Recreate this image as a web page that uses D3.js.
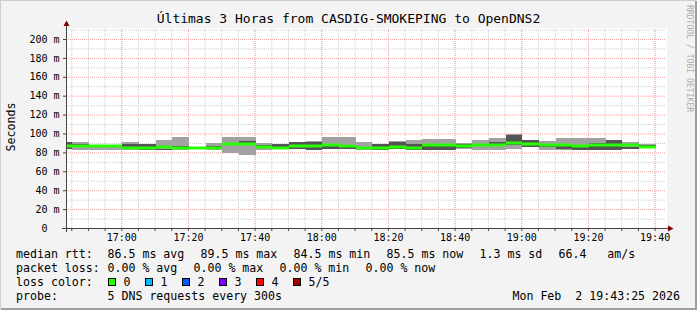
<!DOCTYPE html>
<html>
<head>
<meta charset="utf-8">
<script src="https://cdn.jsdelivr.net/npm/d3@7"></script>
<style>
body { margin: 0; background: #f3f3f3; }
text { font-family: "DejaVu Sans Mono", monospace; }
</style>
</head>
<body>
<svg id="chart" width="697" height="310"></svg>
<script>
// 5 minute steps (end time of each step), the first one is partial
var stepEnds = ["16:45","16:50","16:55","17:00","17:05","17:10","17:15","17:20","17:25","17:30",
                "17:35","17:40","17:45","17:50","17:55","18:00","18:05","18:10","18:15","18:20",
                "18:25","18:30","18:35","18:40","18:45","18:50","18:55","19:00","19:05","19:10",
                "19:15","19:20","19:25","19:30","19:35","19:40"];

// median rtt in ms
var median = [87, 87, 87, 87, 85, 84.5, 85.5, 84.5, 85, 85, 88.5, 89, 85.5, 84.5, 87, 87, 87.5, 87,
              84.8, 84.5, 86, 84.5, 87.5, 87.5, 87, 87.5, 87.5, 89.5, 88.5, 87.5, 87.5, 87, 87.5, 87.5, 87.5, 85.5];
// smoke: fastest / slowest ping (light) and 2nd / 4th ping (dark)
var pingMin = [84, 82.5, 82.5, 82.5, 82.5, 82.5, 82.5, 82.5, 85, 82.5, 79.7, 77.6, 83, 84.5, 84, 82.5, 83.5, 84,
               82.5, 82.5, 84, 82.5, 82.5, 82.5, 84, 82.5, 82.5, 84, 85.5, 82.5, 82.5, 82.5, 82.5, 82.5, 84, 85];
var pingMax = [91, 91, 87, 87, 91, 89, 93, 96.6, 85, 90.3, 96.6, 96.6, 89.5, 89, 91, 92, 96.5, 96.5,
               90.6, 89, 92, 93, 94, 94, 89.6, 93, 95, 99.5, 93, 92, 95, 95, 95, 93, 91, 89];
var ping2 = [84, 87.5, 87, 87, 85.5, 82.5, 83, 85.5, 85, 85.5, 88, 89.5, 87, 85, 84, 82.5, 83.5, 84,
             84.8, 82.5, 84, 83, 82.5, 82.5, 85, 87, 87.5, 88, 86, 86, 83.5, 82.5, 82.5, 82.5, 84, 86.5];
var ping4 = [91, 88.5, 87, 87, 89, 89, 84, 86.5, 85, 86.5, 89.8, 92, 87.8, 89, 91, 90.5, 89, 88,
             85.5, 89, 91, 89, 89, 88, 89, 88, 90.5, 98, 93, 88, 86.5, 87, 90.3, 93, 86, 87.5];

var yMajor = [0, 20, 40, 60, 80, 100, 120, 140, 160, 180, 200];
var yMinor = [10, 30, 50, 70, 90, 110, 130, 150, 170, 190, 210];

var title = "Últimas 3 Horas from CASDIG-SMOKEPING to OpenDNS2";
var rttLegend = ["86.5 ms avg", "89.5 ms max", "84.5 ms min", "85.5 ms now", "1.3 ms sd", "66.4   am/s"];
var lossLegend = ["0.00 % avg", "0.00 % max", "0.00 % min", "0.00 % now"];
var lossLabels = ["0", "1", "2", "3", "4", "5/5"];
var lossColors = ["#26ff00", "#00b8ff", "#0059ff", "#7e00ff", "#ff0000", "#a10000"];
var probeText = "5 DNS requests every 300s";
var stamp = "Mon Feb  2 19:43:25 2026";

var svg = d3.select("#chart");
var nb = function (s) { return s.replace(/ /g, "\u00a0"); };

var parse = d3.timeParse("%Y-%m-%d %H:%M:%S");
var tStart = parse("2026-02-02 16:43:25"), tEnd = parse("2026-02-02 19:43:25");
var ends = stepEnds.map(function (s) { return parse("2026-02-02 " + s + ":00"); });

var L = 66, R = 666, T = 28, B = 228;
var x = d3.scaleTime().domain([tStart, tEnd]).range([L, R]);
var y = d3.scaleLinear().domain([0, 211.6]).range([B, T]);

// frame
svg.append("rect").attr("width", 697).attr("height", 310).attr("fill", "#f3f3f3");
svg.append("path").attr("d", "M0,309V0H696").attr("fill", "none").attr("stroke", "#cfcfcf").attr("stroke-width", 2);
svg.append("path").attr("d", "M1,309H696V1").attr("fill", "none").attr("stroke", "#9e9e9e").attr("stroke-width", 2);
svg.append("rect").attr("x", L).attr("y", T).attr("width", R - L + 1).attr("height", B - T).attr("fill", "#fff");

// grid
var minorTimes = d3.timeMinute.every(5).range(tStart, tEnd);
var majorTimes = d3.timeMinute.every(20).range(tStart, tEnd);

function grid(g, color) {
    g.select(".domain").remove();
    g.selectAll("text").remove();
    g.selectAll("line").attr("stroke", color).attr("stroke-dasharray", "1,1");
}
svg.append("g").attr("transform", "translate(0," + B + ")")
    .call(d3.axisBottom(x).tickValues(minorTimes).tickSize(-(B - T)).tickFormat(""))
    .call(grid, "#cccccc");
svg.append("g").attr("transform", "translate(" + L + ",0)")
    .call(d3.axisLeft(y).tickValues(yMinor).tickSize(-(R - L)).tickFormat(""))
    .call(grid, "#cccccc");
svg.append("g").attr("transform", "translate(0," + B + ")")
    .call(d3.axisBottom(x).tickValues(majorTimes).tickSize(-(B - T)).tickFormat(""))
    .call(grid, "#f4a3a3");
svg.append("g").attr("transform", "translate(" + L + ",0)")
    .call(d3.axisLeft(y).tickValues(yMajor.slice(1)).tickSize(-(R - L)).tickFormat(""))
    .call(grid, "#f4a3a3");

// smoke and median
var steps = ends.map(function (e, i) {
    var b = d3.timeMinute.offset(e, -5);
    return { x0: Math.round(x(b < tStart ? tStart : b)) + 1, x1: Math.round(x(e)) + 1,
             med: median[i], lo: pingMin[i], hi: pingMax[i], lo2: ping2[i], hi2: ping4[i] };
});
var data = svg.append("g");
function band(lo, hi, color, extra) {
    data.selectAll(null).data(steps).enter().append("rect")
        .attr("x", function (d) { return d.x0; })
        .attr("width", function (d) { return d.x1 - d.x0; })
        .attr("y", function (d) { return Math.round(y(hi(d))) - extra; })
        .attr("height", function (d) { return Math.max(0, Math.round(y(lo(d))) - Math.round(y(hi(d)))) + 2 * extra; })
        .attr("fill", color);
}
band(function (d) { return d.lo; }, function (d) { return d.hi; }, "#a2a2a2", 0);
band(function (d) { return d.lo2; }, function (d) { return d.hi2; }, "#545454", 0);
band(function (d) { return d.med; }, function (d) { return d.med; }, "#26ff00", 1.5);

// axes
var xAxis = svg.append("g").attr("transform", "translate(0," + B + ")")
    .call(d3.axisBottom(x).tickValues(minorTimes).tickSize(3).tickPadding(2.5)
        .tickFormat(function (d) { return d.getMinutes() % 20 === 0 ? d3.timeFormat("%H:%M")(d) : ""; }));
xAxis.select(".domain").remove();
xAxis.selectAll("line").attr("stroke", "#444");
xAxis.selectAll("text").attr("font-size", 10).attr("fill", "#000").attr("font-family", "DejaVu Sans Mono");

var yAxis = svg.append("g").attr("transform", "translate(" + L + ",0)")
    .call(d3.axisLeft(y).tickValues(yMajor).tickSize(3).tickPadding(3.5)
        .tickFormat(function (d) { return d ? nb(d + " m") : nb("0  "); }));
yAxis.select(".domain").remove();
yAxis.selectAll("line").attr("stroke", "#444");
yAxis.selectAll("text").attr("font-size", 10).attr("fill", "#000").attr("font-family", "DejaVu Sans Mono");

svg.append("path").attr("d", "M62," + (B + 0.5) + "H669").attr("stroke", "#444").attr("fill", "none");
svg.append("path").attr("d", "M" + (L + 0.5) + ",232V25").attr("stroke", "#444").attr("fill", "none");
svg.append("path").attr("d", "M668," + (B - 2.5) + "L673.5," + (B + 0.5) + "L668," + (B + 3.5) + "Z").attr("fill", "#7f0000");
svg.append("path").attr("d", "M" + (L - 2.5) + ",26L" + (L + 0.5) + ",20.5L" + (L + 3.5) + ",26Z").attr("fill", "#7f0000");

// texts
svg.append("text").attr("x", 348.5).attr("y", 23).attr("text-anchor", "middle")
    .attr("font-size", 13).text(title);
svg.append("text").attr("transform", "translate(15,127) rotate(-90)").attr("text-anchor", "middle")
    .attr("font-size", 11.6).text("Seconds");
svg.append("text").attr("transform", "translate(686.5,5) rotate(90)")
    .attr("font-size", 8.1).attr("fill", "#adadad").text(nb("RRDTOOL / TOBI OETIKER"));

var leg = svg.append("g").attr("font-size", 11.6).attr("fill", "#000");
function line(yy, label, items, xs) {
    leg.append("text").attr("x", 16).attr("y", yy).text(label);
    items.forEach(function (s, i) {
        leg.append("text").attr("x", xs[i]).attr("y", yy).text(nb(s));
    });
}
line(258, "median rtt:", rttLegend, [107.5, 200.5, 293.5, 386.5, 479.5, 558.5]);
line(272, "packet loss:", lossLegend, [107.5, 193.5, 279.5, 365.5]);
line(286, "loss color:", [], []);
lossLabels.forEach(function (s, i) {
    var bx = 108.5 + i * 37;
    leg.append("rect").attr("x", bx).attr("y", 278.5).attr("width", 7).attr("height", 7)
        .attr("fill", lossColors[i]).attr("stroke", "#000");
    leg.append("text").attr("x", bx + 15).attr("y", 286).text(s);
});
line(300, "probe:", [probeText], [107.5]);
leg.append("text").attr("x", 680).attr("y", 300).attr("text-anchor", "end").text(nb(stamp));
</script>
</body>
</html>
